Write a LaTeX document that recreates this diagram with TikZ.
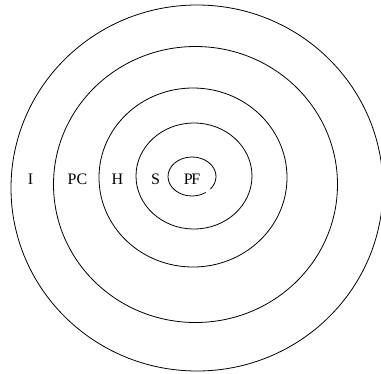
\documentclass[tikz,border=0pt]{standalone}
\usepackage{fontspec}
\setmainfont{Liberation Serif}
\usetikzlibrary{calc}
\begin{document}
\begin{tikzpicture}[x=1pt,y=-1pt,
  ring/.style={draw=black,line width=0.8pt},
  lbl/.style={font=\fontsize{16}{16}\selectfont,inner sep=0pt,anchor=base}]
\useasboundingbox (0,0) rectangle (381,373);
\draw[ring] (197,188) ellipse [x radius=186, y radius=183];
\draw[ring] (195.5,184.5) ellipse [x radius=142, y radius=138];
\draw[ring] (193,177.5) ellipse [x radius=94, y radius=89.5];
\draw[ring] (194,176) ellipse [x radius=58, y radius=53];
\coordinate (pfc) at (192,176.5);
\draw[ring] ($(pfc)+({24*cos(55)},{19.5*sin(55)})$) arc[start angle=55, end angle=400, x radius=24, y radius=19.5];
\node[lbl] (I) at (30.5,184) {I};
\node[lbl] (PC) at (77.5,184) {PC};
\node[lbl] (H) at (117.5,184) {H};
\node[lbl] (S) at (155.5,184) {S};
\node[lbl] (PF) at (192,184) {P\kern-1.5ptF};
\end{tikzpicture}
\end{document}
